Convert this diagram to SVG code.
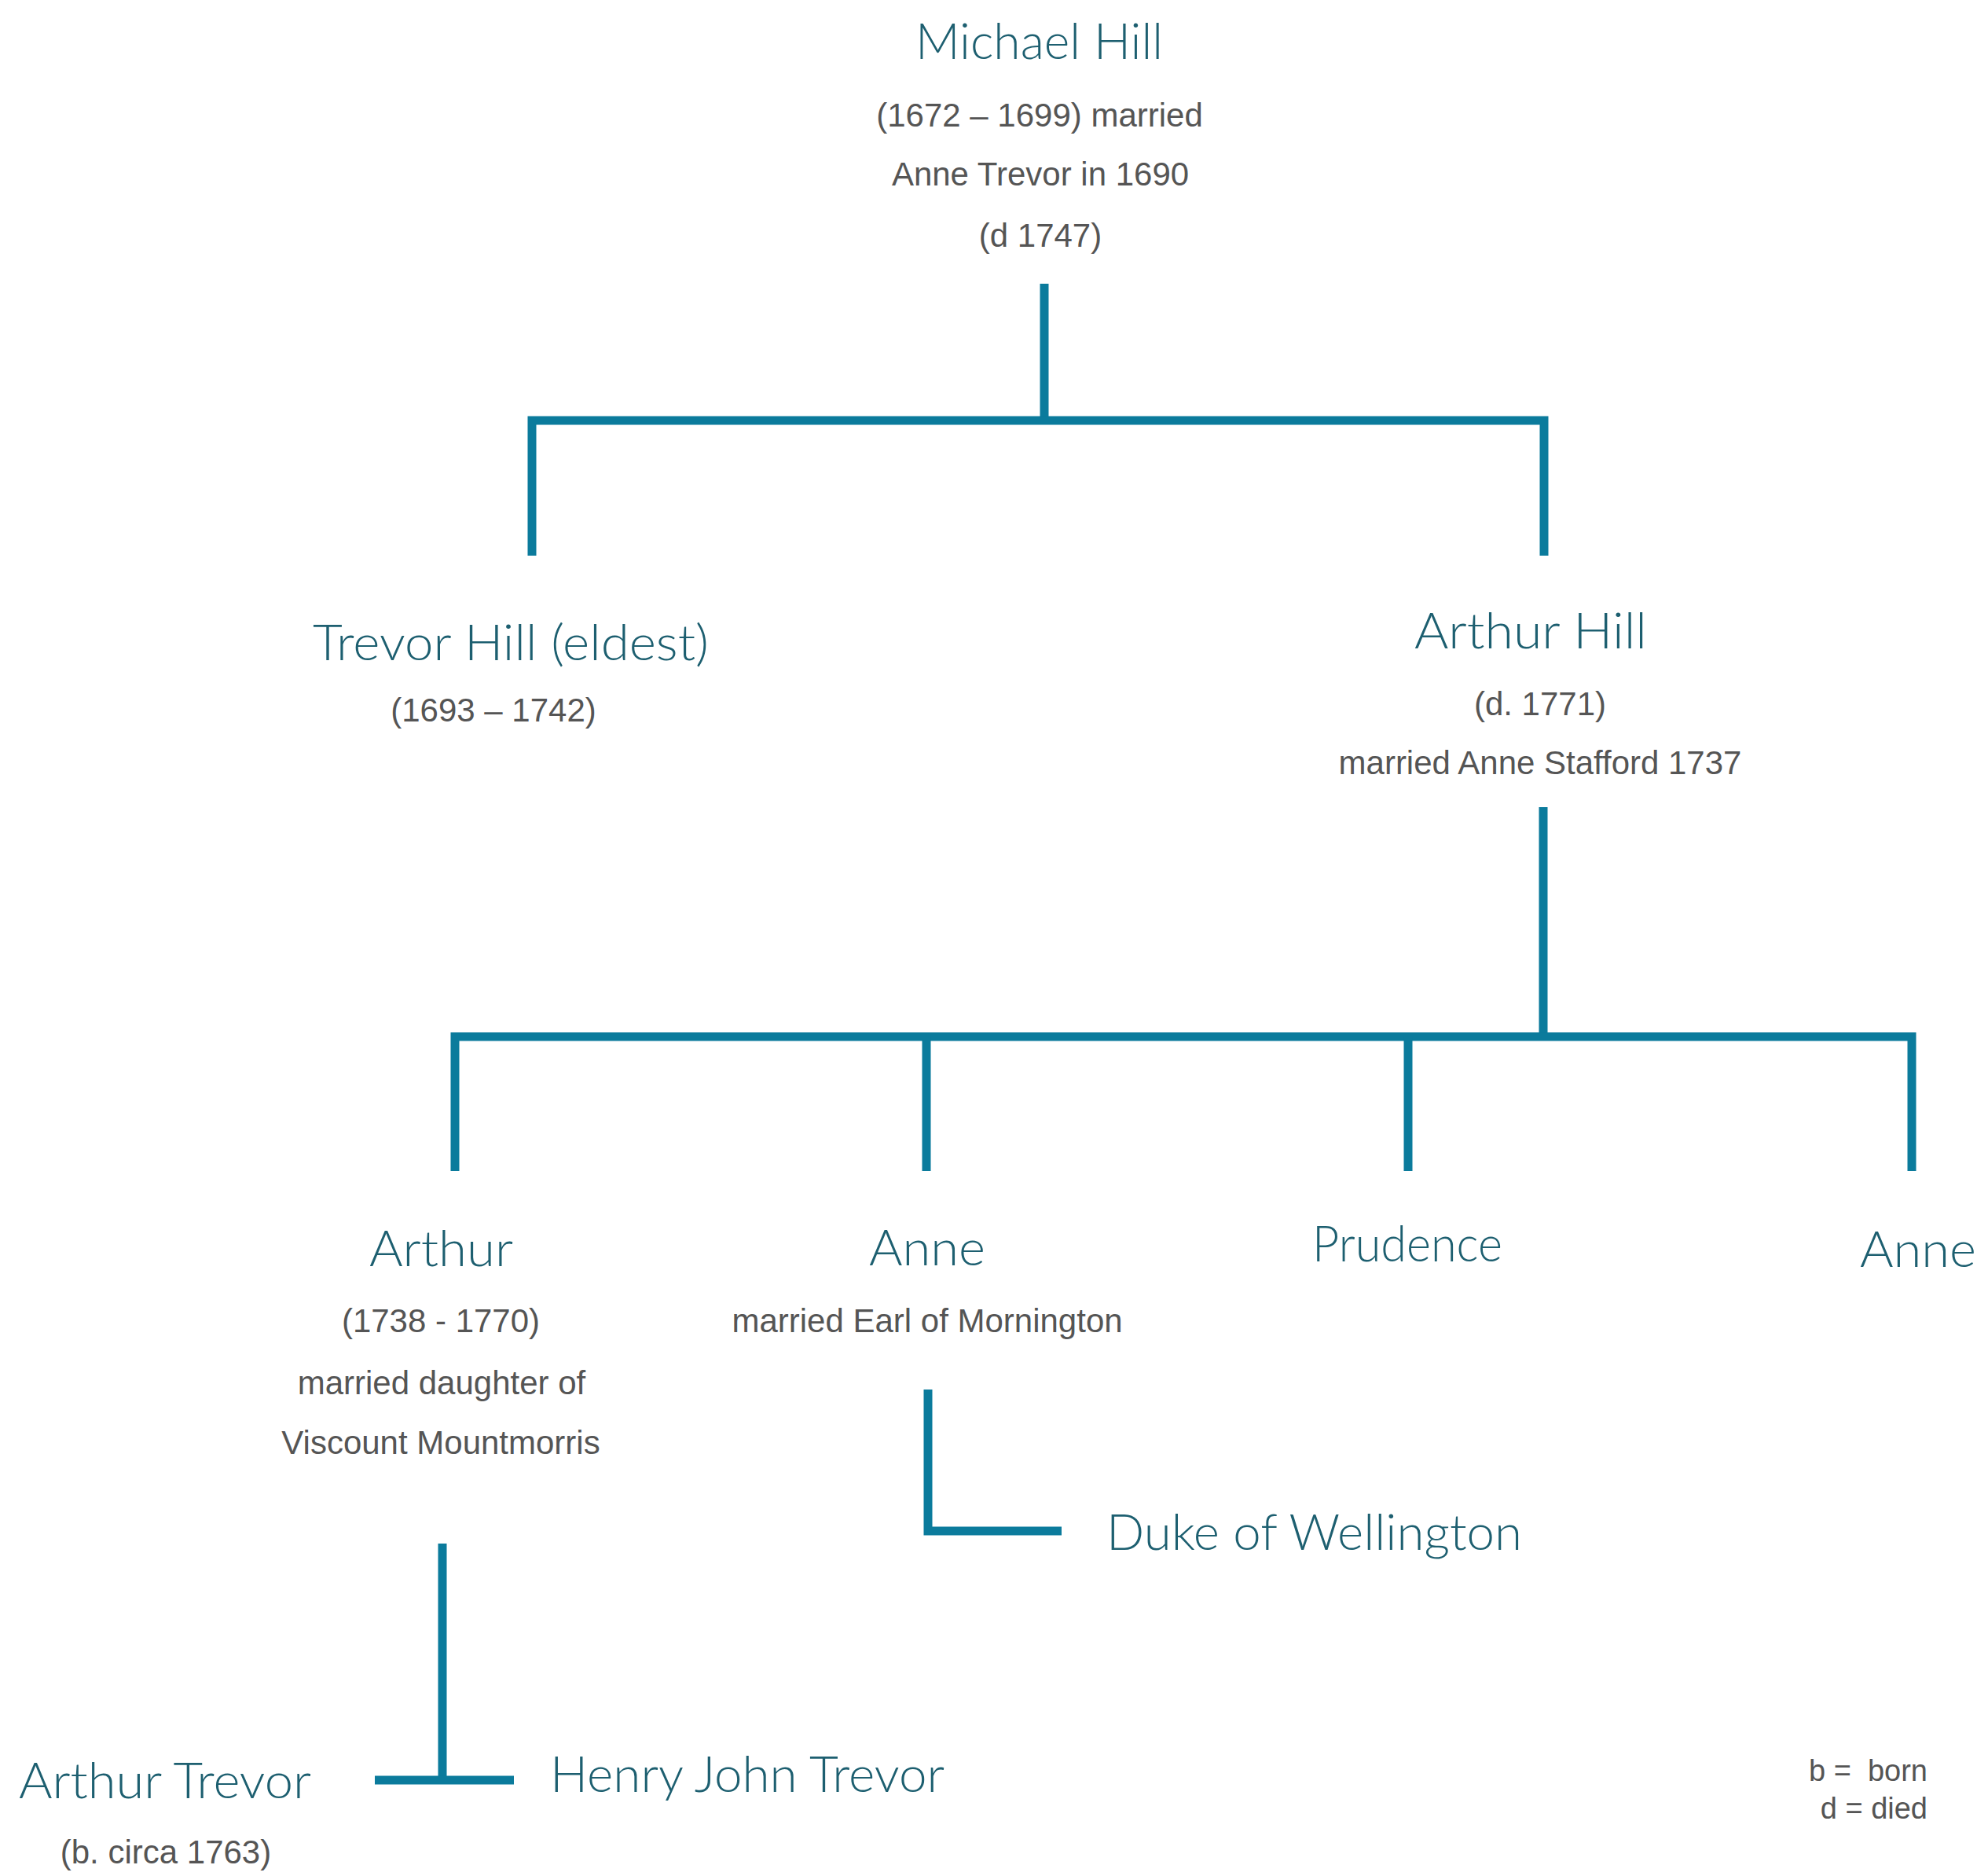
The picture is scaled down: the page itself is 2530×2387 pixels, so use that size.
<svg xmlns="http://www.w3.org/2000/svg" width="2530" height="2387" viewBox="0 0 2530 2387">
<style>
.name{font-family:Lato,"Open Sans","DejaVu Sans",sans-serif;font-weight:300;font-size:64px;fill:#1d5f70}
.info{font-family:"Liberation Sans",Arial,sans-serif;font-size:42px;fill:#555555;text-anchor:middle}
.legend{font-family:"Liberation Sans",Arial,sans-serif;font-size:38px;fill:#555555;text-anchor:end}
.line{fill:none;stroke:#0b7b9c;stroke-width:11;stroke-linecap:butt;stroke-linejoin:miter}
</style>
<rect x="0" y="0" width="2530" height="2387" fill="#ffffff"/>
<g id="connectors">
<path class="line" d="M1329,361 V535"/>
<path class="line" d="M677,707 V535 H1965 V707"/>
<path class="line" d="M1964,1027 V1319"/>
<path class="line" d="M579,1490 V1319 H2433 V1490"/>
<path class="line" d="M1179,1319 V1490"/>
<path class="line" d="M1792,1319 V1490"/>
<path class="line" d="M1181,1768 V1948 H1351"/>
<path class="line" d="M563,1964 V2265"/>
<path class="line" d="M477,2265 H654"/>
</g>
<g id="michael-hill">
<text class="name" x="1165" y="75" font-size="68" textLength="315" lengthAdjust="spacingAndGlyphs">Michael Hill</text>
<text class="info" x="1323" y="161">(1672 – 1699) married</text>
<text class="info" x="1324" y="236">Anne Trevor in 1690</text>
<text class="info" x="1324" y="314">(d 1747)</text>
</g>
<g id="trevor-hill">
<text class="name" x="398" y="840" textLength="504" lengthAdjust="spacingAndGlyphs">Trevor Hill (eldest)</text>
<text class="info" x="628" y="918">(1693 – 1742)</text>
</g>
<g id="arthur-hill">
<text class="name" x="1800" y="825" textLength="296" lengthAdjust="spacingAndGlyphs">Arthur Hill</text>
<text class="info" x="1960" y="910">(d. 1771)</text>
<text class="info" x="1960" y="985">married Anne Stafford 1737</text>
</g>
<g id="arthur">
<text class="name" x="470" y="1611" textLength="183" lengthAdjust="spacingAndGlyphs">Arthur</text>
<text class="info" x="561" y="1695">(1738 - 1770)</text>
<text class="info" x="562" y="1774">married daughter of</text>
<text class="info" x="561" y="1850">Viscount Mountmorris</text>
</g>
<g id="anne-1">
<text class="name" x="1106" y="1610" textLength="148" lengthAdjust="spacingAndGlyphs">Anne</text>
<text class="info" x="1180" y="1695">married Earl of Mornington</text>
</g>
<g id="prudence">
<text class="name" x="1670" y="1605" textLength="242" lengthAdjust="spacingAndGlyphs">Prudence</text>
</g>
<g id="anne-2">
<text class="name" x="2367" y="1612" textLength="148" lengthAdjust="spacingAndGlyphs">Anne</text>
</g>
<g id="duke-of-wellington">
<text class="name" x="1408" y="1972" textLength="529" lengthAdjust="spacingAndGlyphs">Duke of Wellington</text>
</g>
<g id="arthur-trevor">
<text class="name" x="24" y="2288" textLength="372" lengthAdjust="spacingAndGlyphs">Arthur Trevor</text>
<text class="info" x="211" y="2371">(b. circa 1763)</text>
</g>
<g id="henry-john-trevor">
<text class="name" x="700" y="2280" textLength="502" lengthAdjust="spacingAndGlyphs">Henry John Trevor</text>
</g>
<g id="legend">
<text class="legend" x="2453" y="2266" xml:space="preserve">b =  born</text>
<text class="legend" x="2453" y="2314">d = died</text>
</g>
</svg>
